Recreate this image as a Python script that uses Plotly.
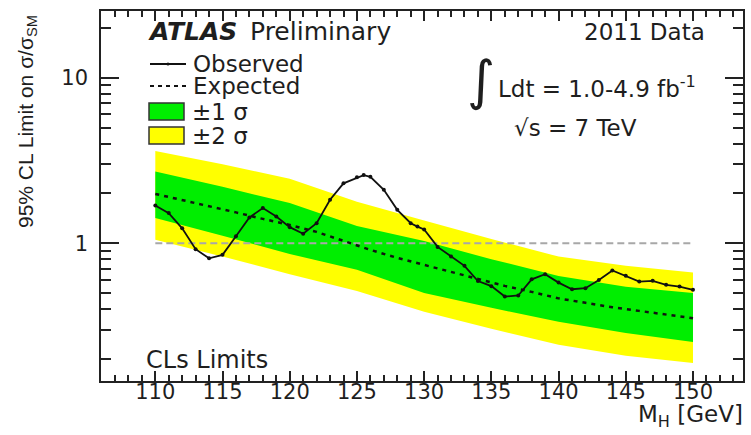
import plotly.graph_objects as go

# ---------------- data ----------------
obs_mass = [110, 111, 112, 113, 114, 115, 116, 117, 118, 119, 120, 121, 122, 123, 124, 125,
            125.5, 126, 127, 128, 129, 129.5, 130, 131, 132, 133, 134, 135, 136, 137, 138,
            139, 140, 141, 142, 143, 144, 145, 146, 147, 148, 149, 150]
obs_limit = [1.69, 1.52, 1.23, 0.92, 0.81, 0.85, 1.10, 1.43, 1.63, 1.45, 1.25, 1.14, 1.32,
             1.83, 2.30, 2.50, 2.58, 2.52, 2.10, 1.59, 1.32, 1.26, 1.21, 0.95, 0.83, 0.73,
             0.59, 0.55, 0.476, 0.483, 0.605, 0.65, 0.578, 0.527, 0.535, 0.60, 0.684, 0.635,
             0.586, 0.592, 0.56, 0.547, 0.523]

exp_mass = [110, 112, 114, 116, 118, 120, 122, 124, 126, 128, 130, 132, 134, 136, 138, 140,
            142, 144, 146, 148, 150]
exp_limit = [1.985, 1.826, 1.668, 1.535, 1.402, 1.290, 1.170, 1.032, 0.911, 0.815, 0.740,
             0.671, 0.609, 0.552, 0.508, 0.464, 0.436, 0.410, 0.390, 0.369, 0.352]

band_mass = [110, 115, 120, 125, 130, 135, 140, 145, 150]
yellow_hi = [3.61, 3.00, 2.45, 1.78, 1.37, 1.06, 0.83, 0.73, 0.665]
green_hi = [2.71, 2.19, 1.75, 1.27, 1.03, 0.80, 0.634, 0.545, 0.50]
green_lo = [1.42, 1.11, 0.86, 0.69, 0.50, 0.407, 0.335, 0.287, 0.253]
yellow_lo = [1.05, 0.83, 0.65, 0.515, 0.385, 0.304, 0.243, 0.209, 0.189]

ref_mass = [110, 150]
ref_limit = [1, 1]

x_ticks = [110, 115, 120, 125, 130, 135, 140, 145, 150]
y_ticks = [1, 10]
y_ticktext = ["1", "10"]
y_minor = [0.2, 0.3, 0.4, 0.5, 0.6, 0.7, 0.8, 0.9, 2, 3, 4, 5, 6, 7, 8, 9, 20]

# ---------------- layout helpers ----------------
WIDTH, HEIGHT = 751, 435
L, R, T, B = 101, 8, 11, 54
PW = WIDTH - L - R
PH = HEIGHT - T - B
FONT = "DejaVu Sans"
TXT = "#1e1e1e"


def px(xp):
    return (xp - L) / PW


def py(yp):
    return (HEIGHT - B - yp) / PH


fig = go.Figure()

# yellow band (+-2 sigma)
fig.add_trace(go.Scatter(
    x=band_mass + band_mass[::-1], y=yellow_hi + yellow_lo[::-1],
    fill="toself", fillcolor="#FFFF00", line=dict(width=0), mode="lines",
    hoverinfo="skip", showlegend=False))
# green band (+-1 sigma)
fig.add_trace(go.Scatter(
    x=band_mass + band_mass[::-1], y=green_hi + green_lo[::-1],
    fill="toself", fillcolor="#00EE00", line=dict(width=0), mode="lines",
    hoverinfo="skip", showlegend=False))
# reference line at 1
fig.add_trace(go.Scatter(
    x=ref_mass, y=ref_limit, mode="lines",
    line=dict(color="#a8a8a8", width=2, dash="7px,4px"), showlegend=False))
# expected
fig.add_trace(go.Scatter(
    x=exp_mass, y=exp_limit, mode="lines",
    line=dict(color="#111111", width=2.5, dash="4px,5px"), showlegend=False))
# observed
fig.add_trace(go.Scatter(
    x=obs_mass, y=obs_limit, mode="lines+markers",
    line=dict(color="#111111", width=1.8),
    marker=dict(color="#111111", size=4), showlegend=False))

shapes = []
# legend samples
shapes.append(dict(type="line", xref="paper", yref="paper",
                   x0=px(150), x1=px(186), y0=py(64), y1=py(64),
                   line=dict(color="#111111", width=1.8)))
shapes.append(dict(type="circle", xref="paper", yref="paper",
                   x0=px(166.5), x1=px(169.5), y0=py(65.5), y1=py(62.5),
                   fillcolor="#111111", line=dict(width=0)))
shapes.append(dict(type="line", xref="paper", yref="paper",
                   x0=px(150), x1=px(186), y0=py(86), y1=py(86),
                   line=dict(color="#111111", width=2, dash="4px,4px")))
shapes.append(dict(type="rect", xref="paper", yref="paper",
                   x0=px(149), x1=px(184), y0=py(120), y1=py(103),
                   fillcolor="#00EE00", line=dict(color="#333333", width=1.5)))
shapes.append(dict(type="rect", xref="paper", yref="paper",
                   x0=px(149), x1=px(184), y0=py(144), y1=py(127),
                   fillcolor="#FFFF00", line=dict(color="#333333", width=1.5)))

ann = []


def text(s, x, y, size=23, xanchor="left", color=TXT, family=FONT, angle=0):
    ann.append(dict(text=s, xref="paper", yref="paper", x=px(x), y=py(y),
                    xanchor=xanchor, yanchor="middle", showarrow=False,
                    textangle=angle, font=dict(family=family, size=size, color=color)))


text("<b><i>ATLAS</i></b>", 146, 32, size=25)
text("Preliminary", 248, 32, size=25)
text("2011 Data", 707, 32, xanchor="right")
text("Observed", 191, 64)
text("Expected", 191, 86)
text("±1 σ", 190, 112)
text("±2 σ", 190, 136)
text("∫", 481, 80, size=54, xanchor="center")
text("Ldt = 1.0-4.9 fb<sup>-1</sup>", 496, 87)
text("√s = 7 TeV", 512, 128)
text("CLs Limits", 144, 360, size=24)
text("M<sub>H</sub> [GeV]", 745, 416, xanchor="right")
text("95% CL Limit on σ/σ<sub>SM</sub>", 27, 122, size=21, xanchor="center",
     family="Liberation Sans", angle=-90)

fig.update_layout(
    width=WIDTH, height=HEIGHT,
    margin=dict(l=L, r=R, t=T, b=B, autoexpand=False),
    paper_bgcolor="white", plot_bgcolor="white",
    shapes=shapes, annotations=ann, showlegend=False,
    xaxis=dict(range=[105.96, 153.72], tickmode="array", tickvals=x_ticks,
               ticks="inside", ticklen=10, tickwidth=1.5, tickcolor="#222222",
               minor=dict(dtick=1, tick0=110, ticks="inside", ticklen=6, tickwidth=1.5,
                          tickcolor="#222222"),
               showline=True, linecolor="#222222", linewidth=1.5, mirror="allticks",
               showgrid=False, zeroline=False, automargin=False, ticklabelstandoff=-9,
               tickfont=dict(family=FONT, size=21, color=TXT)),
    yaxis=dict(type="log", range=[-0.8327, 1.403], tickmode="array", tickvals=y_ticks,
               ticktext=y_ticktext, ticks="inside", ticklen=18, tickwidth=1.5,
               tickcolor="#222222",
               minor=dict(tickmode="array", tickvals=y_minor, ticks="inside", ticklen=10,
                          tickwidth=1.5, tickcolor="#222222"),
               showline=True, linecolor="#222222", linewidth=1.5, mirror="allticks",
               showgrid=False, zeroline=False, automargin=False, ticklabelstandoff=7,
               tickfont=dict(family=FONT, size=21, color=TXT)),
)

fig.write_html("out.html", config={"displayModeBar": False},
               post_script="document.body.style.margin='0';document.body.style.overflow='hidden';")
